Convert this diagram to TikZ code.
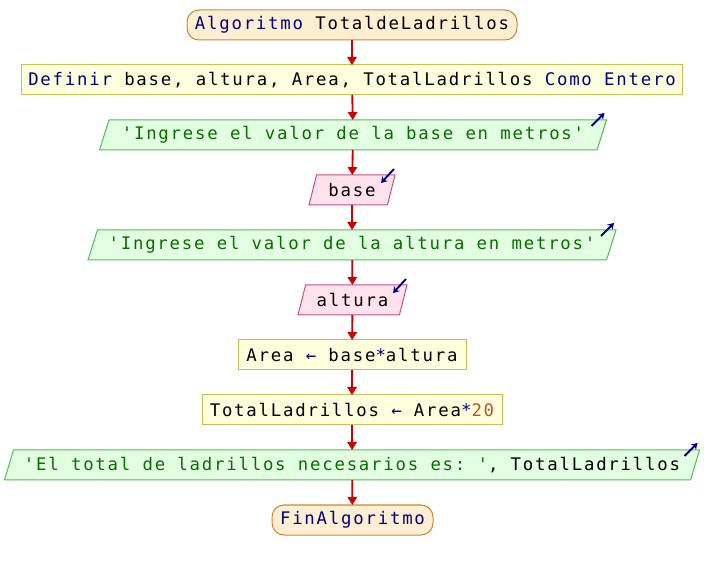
\documentclass[tikz,border=0pt]{standalone}
\usepackage{fontspec}
\setmonofont[LetterSpace=10.3]{DejaVu Sans Mono}
\usetikzlibrary{shapes.geometric}
\usetikzlibrary{arrows.meta}
\usetikzlibrary{calc}
\definecolor{termfill}{HTML}{FFEFD2}
\definecolor{termline}{HTML}{C8883A}
\definecolor{procfill}{HTML}{FFFFDD}
\definecolor{procline}{HTML}{C8C052}
\definecolor{outfill}{HTML}{E2FFE2}
\definecolor{outline}{HTML}{50C050}
\definecolor{infill}{HTML}{FFE2EC}
\definecolor{inline}{HTML}{C8508A}
\definecolor{flowred}{HTML}{CC0000}
\definecolor{kwnavy}{HTML}{000080}
\definecolor{strgreen}{HTML}{0A6E00}
\definecolor{numbrown}{HTML}{B05A28}
\newcommand{\kw}[1]{\textcolor{kwnavy}{#1}}
\newcommand{\cadena}[1]{\textcolor{strgreen}{#1}}
\newcommand{\numero}[1]{\textcolor{numbrown}{#1}}

\tikzset{
  bloque/.style={outer sep=0pt, inner sep=2pt, minimum height=22.5pt, line width=0.75pt,
    font=\ttfamily\fontsize{13pt}{15pt}\selectfont},
  terminal/.style={bloque, draw=termline, fill=termfill, rounded corners=9pt},
  proceso/.style={bloque, draw=procline, fill=procfill},
  salida/.style={bloque, draw=outline, fill=outfill, trapezium,
    trapezium left angle=67, trapezium right angle=113, trapezium stretches body},
  entrada/.style={bloque, draw=inline, fill=infill, trapezium,
    trapezium left angle=68, trapezium right angle=112, trapezium stretches body},
  flecha/.style={draw=flowred, line width=1.4pt, -{Triangle[width=7pt,length=6pt]}},
  icono/.style={draw=kwnavy, line width=1.4pt, -{Stealth[width=5.5pt,length=4.5pt]}}
}

\begin{document}
\begin{tikzpicture}[x=0.75pt, y=-0.75pt]

        \useasboundingbox (0,0) rectangle (704,570);

        % Inicio
        \node[terminal, minimum width=247.5pt] (inicio) at (352,25) {\kw{Algoritmo} TotaldeLadrillos};

        % Definicion de variables
        \node[proceso, minimum width=495.75pt] (definir) at (352,80) {\kw{Definir} base, altura, Area, TotalLadrillos \kw{Como Entero}};

        % Lectura de la base
        \node[salida, minimum width=380.25pt] (msgbase) at (353,135) {\cadena{'Ingrese el valor de la base en metros'}};
        \node[entrada, minimum width=64.5pt] (base) at (352,190) {base};

        % Lectura de la altura
        \node[salida, minimum width=396pt] (msgaltura) at (352,245) {\cadena{'Ingrese el valor de la altura en metros'}};
        \node[entrada, minimum width=81.75pt] (altura) at (352.5,300) {altura};

        % Calculos
        \node[proceso, minimum width=171pt] (area) at (352,355) {Area \kw{←} base\kw{*}altura};
        \node[proceso, minimum width=225pt] (total) at (352,410) {TotalLadrillos \kw{←} Area\kw{*}\numero{20}};

        % Resultado
        \node[salida, minimum width=521.25pt] (msgtotal) at (352,465) {\cadena{'El total de ladrillos necesarios es: '}, TotalLadrillos};

        % Fin
        \node[terminal, minimum width=120.75pt] (fin) at (352.5,520) {\kw{FinAlgoritmo}};

        % Flujo
        \draw[flecha] (inicio) -- (definir);
        \draw[flecha] (definir) -- (msgbase);
        \draw[flecha] (msgbase) -- (base);
        \draw[flecha] (base) -- (msgaltura);
        \draw[flecha] (msgaltura) -- (altura);
        \draw[flecha] (altura) -- (area);
        \draw[flecha] (area) -- (total);
        \draw[flecha] (total) -- (msgtotal);
        \draw[flecha] (msgtotal) -- (fin);

        % Iconos de salida
        \draw[icono] ($(msgbase.top right corner)+(-15,6)$) -- ($(msgbase.top right corner)+(-2,-7)$);
        \draw[icono] ($(msgaltura.top right corner)+(-15,6)$) -- ($(msgaltura.top right corner)+(-2,-7)$);
        \draw[icono] ($(msgtotal.top right corner)+(-15,6)$) -- ($(msgtotal.top right corner)+(-2,-7)$);

        % Iconos de entrada
        \draw[icono] ($(base.top right corner)+(-1,-6)$) -- ($(base.top right corner)+(-14,8)$);
        \draw[icono] ($(altura.top right corner)+(-1,-6)$) -- ($(altura.top right corner)+(-14,8)$);

\end{tikzpicture}
\end{document}
